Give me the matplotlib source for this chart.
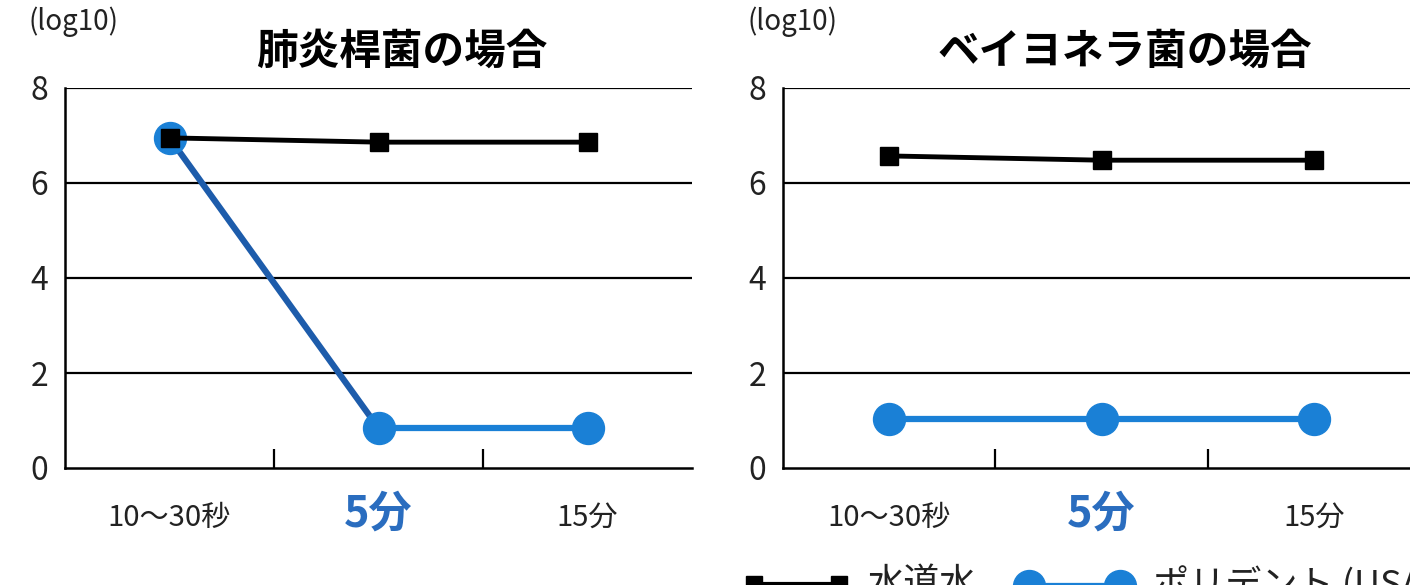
import matplotlib
matplotlib.use("Agg")
import matplotlib.pyplot as plt
from matplotlib.lines import Line2D

plt.rcParams['font.family'] = ['Noto Sans CJK JP', 'DejaVu Sans']

# データ (log10)
categories = ["10〜30秒", "5分", "15分"]
titles = ["肺炎桿菌の場合", "ベイヨネラ菌の場合"]
water_left = [6.95, 6.86, 6.86]
polident_left = [6.95, 0.84, 0.84]
water_right = [6.57, 6.48, 6.48]
polident_right = [1.03, 1.03, 1.03]
series_names = ["水道水", "ポリデント (USA)"]
y_ticks = [0, 2, 4, 6, 8]

BLUE = "#1a80d6"
BLUE_DARK = "#1d5cab"
W, H = 1410, 585

fig = plt.figure(figsize=(W / 100, H / 100), dpi=100)
fig.patch.set_facecolor("white")

# 軸の位置 (ピクセル)
panels = [
    {"x0": 65, "x1": 692, "water": water_left, "poli": polident_left, "title": titles[0], "tx": 402},
    {"x0": 783, "x1": 1420, "water": water_right, "poli": polident_right, "title": titles[1], "tx": 1125},
]
y0, y1 = 468, 88

for p in panels:
    ax = fig.add_axes([p["x0"] / W, (H - y0) / H, (p["x1"] - p["x0"]) / W, (y0 - y1) / H])
    x = list(range(len(categories)))
    ax.set_xlim(-0.5, 2.5)
    ax.set_ylim(0, 8)

    for v in y_ticks[1:]:
        ax.axhline(v, color="black", lw=1.6, zorder=1)

    for s in ["top", "right"]:
        ax.spines[s].set_visible(False)
    ax.spines["left"].set_linewidth(1.8)
    ax.spines["bottom"].set_linewidth(1.8)

    ax.set_yticks(y_ticks)
    ax.set_yticklabels([str(v) for v in y_ticks], fontsize=23, color="#222222")
    ax.tick_params(axis="y", length=0, pad=12)

    # 区切り目盛り
    ax.set_xticks([0.5, 1.5])
    ax.set_xticklabels([])
    ax.tick_params(axis="x", direction="in", length=14, width=1.6, color="black")

    poli = p["poli"]
    if poli[0] - poli[1] > 1:
        ax.plot(x[:2], poli[:2], color=BLUE_DARK, lw=4.5, zorder=3, solid_capstyle="round")
        ax.plot(x[1:], poli[1:], color=BLUE, lw=4.5, zorder=3)
    else:
        ax.plot(x, poli, color=BLUE, lw=4.5, zorder=3)
    ax.plot(x, poli, linestyle="none", marker="o", ms=23, color=BLUE, zorder=4)
    ax.plot(x, p["water"], color="black", lw=3.5, marker="s", ms=13, zorder=5)

    for i, lab in enumerate(categories):
        if lab == "5分":
            ax.text(i, -0.95, lab, ha="center", va="center", fontsize=31,
                    fontweight="bold", color="#2a6dbf", transform=ax.transData, clip_on=False)
        else:
            ax.text(i, -1.05, lab, ha="center", va="center", fontsize=21,
                    color="#222222", transform=ax.transData, clip_on=False)

    fig.text((p["x0"] - 36) / W, (H - 22) / H, "(log10)", fontsize=20, ha="left", va="center", color="#222222")
    fig.text(p["tx"] / W, (H - 52) / H, p["title"], fontsize=30, fontweight="bold", ha="center", va="center")

# 凡例 (下端で切れている)
def fx(px):
    return px / W

def fy(py):
    return (H - py) / H

fig.add_artist(Line2D([fx(754), fx(839)], [fy(584), fy(584)], transform=fig.transFigure,
                      color="black", lw=3, marker="s", ms=12))
fig.text(fx(868), fy(566), series_names[0], fontsize=26, ha="left", va="top", color="#222222")
fig.add_artist(Line2D([fx(1029), fx(1120)], [fy(586), fy(586)], transform=fig.transFigure,
                      color=BLUE, lw=4.5, marker="o", ms=23))
fig.text(fx(1153), fy(566), series_names[1], fontsize=26, ha="left", va="top", color="#222222")

fig.savefig("out.png", dpi=100)
